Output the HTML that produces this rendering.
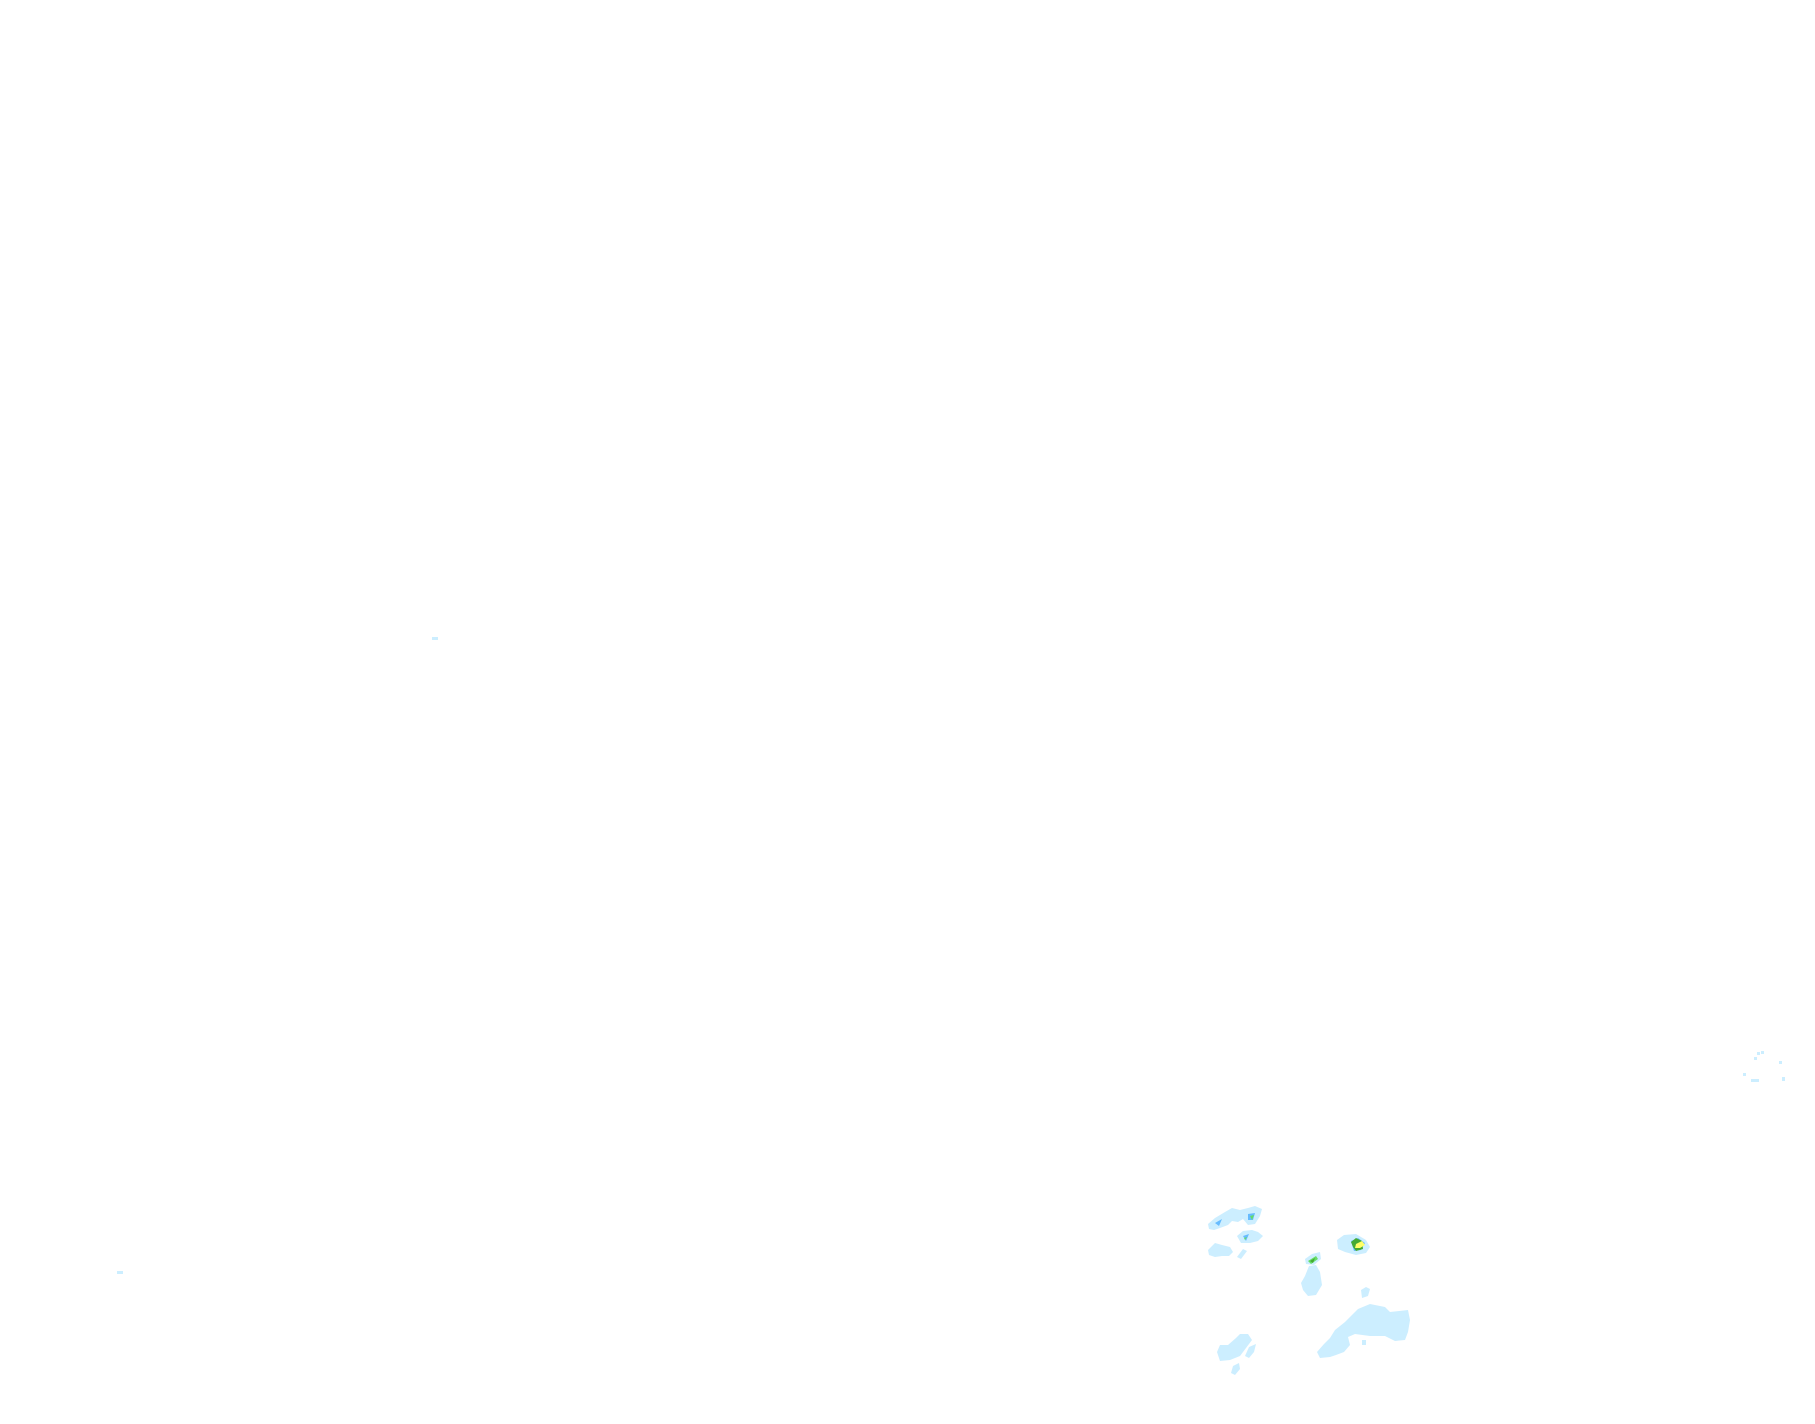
<!DOCTYPE html>
<html><head><style>html,body{margin:0;padding:0;background:#fff;width:1815px;height:1424px;overflow:hidden}</style></head>
<body>
<svg width="1815" height="1424" xmlns="http://www.w3.org/2000/svg">
<g fill="#cceeff">
<polygon points="1208,1224 1215,1218 1225,1212 1232,1208 1240,1210 1248,1208 1255,1206 1262,1209 1260,1216 1255,1224 1248,1225 1243,1219 1238,1222 1232,1221 1228,1225 1220,1228 1214,1230 1209,1229"/>
<polygon points="1237,1236 1243,1231 1252,1230 1258,1232 1263,1236 1258,1241 1250,1243 1241,1243"/>
<polygon points="1208,1250 1215,1243 1222,1245 1230,1247 1233,1252 1229,1256 1222,1256 1215,1257 1209,1255"/>
<polygon points="1237,1257 1243,1249 1247,1251 1241,1259"/>
<polygon points="1305,1259 1312,1254 1320,1252 1321,1259 1314,1265 1306,1264"/>
<polygon points="1309,1266 1316,1265 1320,1272 1322,1285 1316,1295 1308,1296 1303,1290 1301,1283 1305,1276"/>
<polygon points="1337,1240 1344,1235 1356,1234 1366,1240 1370,1247 1366,1253 1356,1255 1345,1252 1338,1249"/>
<polygon points="1361,1290 1366,1287 1370,1289 1368,1296 1362,1298"/>
<polygon points="1335,1330 1345,1322 1358,1309 1370,1304 1385,1307 1390,1312 1408,1310 1410,1320 1408,1332 1405,1340 1395,1341 1385,1336 1370,1336 1355,1334 1348,1337 1350,1345 1344,1352 1336,1355 1330,1357 1320,1358 1317,1352 1324,1344 1330,1338"/>
<polygon points="1362,1340 1366,1340 1366,1345 1362,1345"/>
<polygon points="1220,1345 1228,1345 1236,1338 1240,1334 1248,1334 1252,1340 1246,1348 1240,1356 1230,1360 1220,1361 1217,1352"/>
<polygon points="1249,1347 1256,1344 1254,1352 1249,1358 1245,1356"/>
<polygon points="1233,1366 1239,1363 1240,1369 1235,1375 1231,1373"/>
<rect x="432" y="637" width="6" height="3"/>
<rect x="117" y="1271" width="6" height="3"/>
<rect x="1757" y="1052" width="3" height="3"/><rect x="1761" y="1051" width="3" height="3"/>
<rect x="1754" y="1057" width="3" height="3"/><rect x="1779" y="1061" width="3" height="3"/>
<rect x="1743" y="1073" width="3" height="3"/><rect x="1751" y="1079" width="8" height="3"/>
<rect x="1782" y="1077" width="3" height="4"/>
</g>
<g fill="#66bbff">
<polygon points="1215,1223 1222,1219 1219,1226"/>
<polygon points="1248,1214 1255,1213 1253,1220 1248,1220"/>
<polygon points="1243,1236 1249,1234 1246,1241"/>
<polygon points="1351,1241 1358,1238 1365,1243 1361,1250 1354,1251"/>
</g>
<g fill="#66dd66">
<polygon points="1250,1216 1254,1215 1252,1220"/>
<polygon points="1244,1238 1247,1237 1245,1240"/>
<polygon points="1308,1261 1316,1256 1318,1259 1311,1264"/>
</g>
<g fill="#44aa33">
<polygon points="1351,1242 1356,1238 1362,1241 1363,1249 1356,1251 1353,1247"/>
<polygon points="1310,1261 1315,1258 1313,1263"/>
</g>
<polygon fill="#ffff66" points="1356,1244 1362,1241 1365,1245 1360,1248 1355,1248"/>
</svg>
</body></html>
